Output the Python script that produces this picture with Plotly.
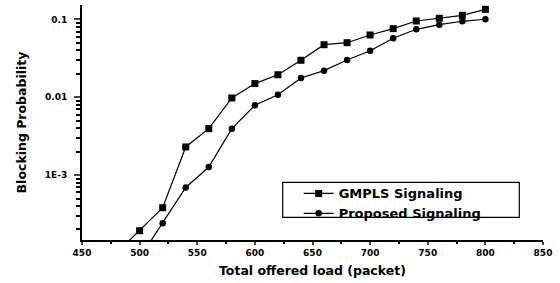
import plotly.graph_objects as go

load_gmpls = [480, 500, 520, 540, 560, 580, 600, 620, 640, 660, 680, 700, 720, 740, 760, 780, 800]
block_gmpls = [1.0e-4, 1.93e-4, 3.81e-4, 2.30e-3, 3.95e-3, 9.8e-3, 0.0150, 0.0195, 0.0299,
               0.0474, 0.0503, 0.0632, 0.0762, 0.0956, 0.1036, 0.113, 0.135]

load_prop = [500, 520, 540, 560, 580, 600, 620, 640, 660, 680, 700, 720, 740, 760, 780, 800]
block_prop = [8.6e-5, 2.40e-4, 6.93e-4, 1.27e-3, 3.95e-3, 7.89e-3, 0.0108, 0.0177, 0.0220,
              0.0301, 0.0397, 0.0573, 0.0748, 0.0857, 0.0948, 0.1006]

x_ticks = [450, 500, 550, 600, 650, 700, 750, 800, 850]
y_tickvals = [1e-3, 1e-2, 1e-1]
y_ticktext = ["1E-3", "0.01", "0.1"]
x_title = "Total offered load (packet)"
y_title = "Blocking Probability"

FONT = "DejaVu Sans"

fig = go.Figure()
fig.add_trace(go.Scatter(
    x=load_gmpls, y=block_gmpls, mode="lines+markers", name="GMPLS Signaling",
    line=dict(color="black", width=1.2),
    marker=dict(symbol="square", size=7, color="black"),
))
fig.add_trace(go.Scatter(
    x=load_prop, y=block_prop, mode="lines+markers", name="Proposed Signaling",
    line=dict(color="black", width=1.2),
    marker=dict(symbol="circle", size=6.5, color="black"),
))

minor_y = []
for dec in [1e-4, 1e-3, 1e-2, 1e-1]:
    for k in range(2, 10):
        minor_y.append(k * dec)

fig.update_layout(
    width=560, height=283,
    margin=dict(l=82, r=17, t=5, b=43, autoexpand=False),
    paper_bgcolor="white", plot_bgcolor="white",
    font=dict(family=FONT, color="black"),
    showlegend=True,
    legend=dict(
        x=0.470, y=0.262, xanchor="left", yanchor="top",
        bgcolor="rgba(0,0,0,0)", borderwidth=0,
        font=dict(family=FONT, size=13, color="black", weight="bold"),
        tracegroupgap=0,
    ),
    xaxis=dict(
        range=[450, 850], tickvals=x_ticks, ticks="outside", ticklen=3, tickwidth=1.5,
        showline=True, linecolor="black", linewidth=2, showgrid=False, zeroline=False,
        automargin=False,
        tickfont=dict(family=FONT, size=9, color="black", weight="bold"),
        minor=dict(dtick=25, ticks="outside", ticklen=2, tickwidth=1.5, tickcolor="black"),
    ),
    yaxis=dict(
        type="log", range=[-3.834, -0.814],
        tickvals=y_tickvals, ticktext=y_ticktext, ticks="outside", ticklen=6, tickwidth=1.5,
        ticklabelstandoff=5,
        showline=True, linecolor="black", linewidth=2, showgrid=False, zeroline=False,
        automargin=False,
        tickfont=dict(family=FONT, size=9, color="black", weight="bold"),
        minor=dict(tickvals=minor_y, ticks="outside", ticklen=4, tickwidth=1.5, tickcolor="black"),
        title=dict(text=y_title, standoff=15,
                   font=dict(family=FONT, size=12.5, color="black", weight="bold")),
    ),
    annotations=[dict(text=x_title, xref="paper", yref="paper", x=0.5, y=-0.1298,
                      xanchor="center", yanchor="middle", showarrow=False,
                      font=dict(family=FONT, size=12.5, color="black", weight="bold"))],
    shapes=[dict(type="rect", xref="paper", yref="paper",
                 x0=0.4354, x1=0.9486, y0=0.0966, y1=0.2455,
                 line=dict(color="black", width=1.2), fillcolor="rgba(0,0,0,0)")],
)

fig.write_html("out.html", config={"displayModeBar": False},
               post_script="document.body.style.margin='0px';")
